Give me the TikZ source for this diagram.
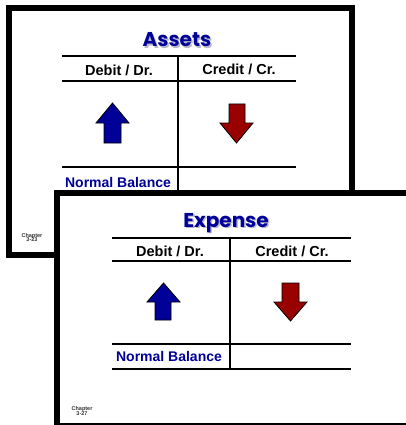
\documentclass[tikz,border=0pt]{standalone}
\usepackage{fontspec}
\setmainfont{Liberation Sans}
\newfontfamily\titlefont{Poppins}
\definecolor{navy}{HTML}{000099}
\definecolor{darkred}{HTML}{990000}
\definecolor{shadowgray}{HTML}{B8B8C8}
\begin{document}
\begin{tikzpicture}[x=1pt,y=-1pt,
  frame/.style={draw=black,line width=6pt,fill=white},
  rule/.style={line width=2pt},
  head/.style={font=\fontsize{14.5}{16}\selectfont\bfseries,text=black,inner sep=0pt},
  normal/.style={font=\fontsize{14}{16}\selectfont\bfseries,text=navy,inner sep=0pt},
  titletext/.style={font=\fontsize{20}{22}\titlefont\bfseries,text=navy,inner sep=0pt},
  titleshadow/.style={font=\fontsize{20}{22}\titlefont\bfseries,text=shadowgray,inner sep=0pt},
  chap/.style={font=\fontsize{5.5}{6}\selectfont\bfseries,text=black!80,inner sep=0pt,align=center},
  uparrow/.style={fill=navy,draw=black,line width=0.8pt,line join=miter},
  downarrow/.style={fill=darkred,draw=black,line width=0.8pt,line join=miter}]
\useasboundingbox (0,0) rectangle (405,425);
\fill[white] (0,0) rectangle (405,425);
% ---------- Slide 1: Assets ----------
\draw[frame] (8.5,8) rectangle (352,254.5);
\node[titleshadow] (t1s) at (178.5,41.5) {Assets};
\node[titletext] (t1) at (177,40) {Assets};
\coordinate (a1l) at (62,56);  \coordinate (a1r) at (296,56);
\coordinate (a2l) at (62,81);  \coordinate (a2r) at (296,81);
\coordinate (a3l) at (62,167); \coordinate (a3r) at (296,167);
\coordinate (avt) at (178,56); \coordinate (avb) at (178,192);
\draw[rule] (a1l) -- (a1r);
\draw[rule] (a2l) -- (a2r);
\draw[rule] (a3l) -- (a3r);
\draw[rule] (avt) -- (avb);
\node[head] (ad) at (119,70) {Debit / Dr.};
\node[head] (ac) at (239,69) {Credit / Cr.};
\draw[uparrow] (112.5,103) -- (129,123) -- (121,123) -- (121,143) -- (104,143) -- (104,123) -- (96,123) -- cycle;
\draw[downarrow] (236.5,143) -- (253,123) -- (245,123) -- (245,104) -- (229,104) -- (229,123) -- (220,123) -- cycle;
\node[normal] (an) at (118,182) {Normal Balance};
\node[chap] (ach) at (32,237.5) {Chapter\\[-1.5pt]3-23};
% ---------- Slide 2: Expense ----------
\draw[frame] (57,192.5) rectangle (412,425.5);
\node[titleshadow] (t2s) at (227.5,224.5) {Expense};
\node[titletext] (t2) at (226,223) {Expense};
\coordinate (e1l) at (112,238); \coordinate (e1r) at (351,238);
\coordinate (e2l) at (112,261); \coordinate (e2r) at (351,261);
\coordinate (e3l) at (112,344); \coordinate (e3r) at (351,344);
\coordinate (e4l) at (112,369); \coordinate (e4r) at (351,369);
\coordinate (evt) at (230,238); \coordinate (evb) at (230,369);
\draw[rule] (e1l) -- (e1r);
\draw[rule] (e2l) -- (e2r);
\draw[rule] (e3l) -- (e3r);
\draw[rule] (e4l) -- (e4r);
\draw[rule] (evt) -- (evb);
\node[head] (ed) at (170,251) {Debit / Dr.};
\node[head] (ec) at (292,251) {Credit / Cr.};
\draw[uparrow] (163.5,283) -- (180,302) -- (171,302) -- (171,320) -- (155,320) -- (155,302) -- (147,302) -- cycle;
\draw[downarrow] (290.5,321) -- (307,302) -- (299,302) -- (299,283) -- (282,283) -- (282,302) -- (274,302) -- cycle;
\node[normal] (en) at (169,356) {Normal Balance};
\node[chap] (ech) at (82,411) {Chapter\\[-1.5pt]3-27};
\end{tikzpicture}
\end{document}
